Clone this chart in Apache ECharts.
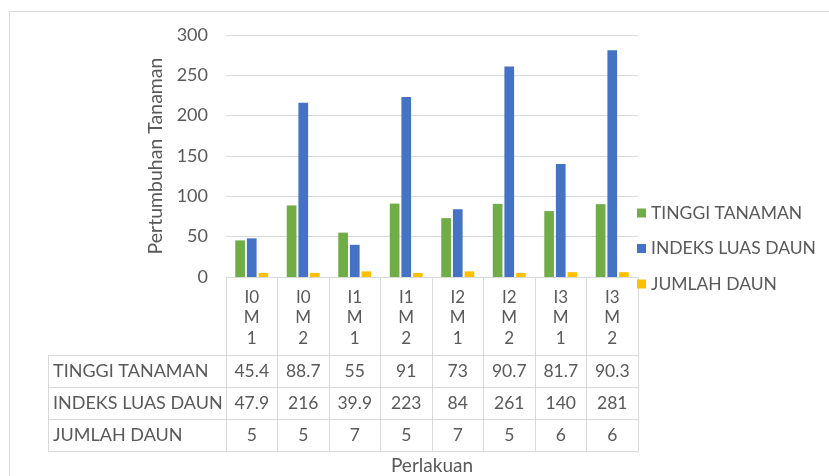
<!DOCTYPE html>
<html>
<head>
<meta charset="utf-8">
<script src="https://cdn.jsdelivr.net/npm/echarts@6/dist/echarts.min.js"></script>
<style>
  html, body { margin: 0; padding: 0; background: #fff; }
  #chart { width: 829px; height: 476px; }
</style>
</head>
<body>
<div id="chart"></div>
<script>
// Treatment combinations (I = level, M = method)
const categories = ['I0\nM\n1', 'I0\nM\n2', 'I1\nM\n1', 'I1\nM\n2', 'I2\nM\n1', 'I2\nM\n2', 'I3\nM\n1', 'I3\nM\n2'];
const seriesNames = ['TINGGI TANAMAN', 'INDEKS LUAS DAUN', 'JUMLAH DAUN'];
const tinggiTanaman = [45.4, 88.7, 55, 91, 73, 90.7, 81.7, 90.3];
const indeksLuasDaun = [47.9, 216, 39.9, 223, 84, 261, 140, 281];
const jumlahDaun = [5, 5, 7, 5, 7, 5, 6, 6];
const yTicks = [0, 50, 100, 150, 200, 250, 300];

const seriesValues = [tinggiTanaman, indeksLuasDaun, jumlahDaun];
const colors = ['#70AD47', '#4472C4', '#FFC000'];
const FONT = 'Lato';
const TEXT = '#595959';
const LINE = '#D9D9D9';

// Table cells: [column, row, value]
const tableCells = [];
seriesValues.forEach((vals, r) => vals.forEach((v, c) => tableCells.push([c, r, v])));

const chart = echarts.init(document.getElementById('chart'), null, { renderer: 'canvas' });

chart.setOption({
  animation: false,
  backgroundColor: '#fff',
  textStyle: { fontFamily: FONT },
  color: colors,
  graphic: [{
    type: 'rect',
    shape: { x: 9.5, y: 11.5, width: 900, height: 600 },
    style: { fill: 'none', stroke: '#D9D9D9', lineWidth: 1 },
    silent: true
  }],
  legend: {
    orient: 'vertical',
    left: 632,
    top: 199,
    itemWidth: 9,
    itemHeight: 9,
    itemGap: 17.5,
    icon: 'rect',
    textStyle: { color: TEXT, fontSize: 17.5, fontFamily: FONT },
    data: seriesNames
  },
  grid: [
    { left: 226, width: 412, top: 35, height: 242, outerBoundsMode: 'none' },
    { left: 226, width: 412, top: 355, height: 96, outerBoundsMode: 'none' }
  ],
  xAxis: [{
    gridIndex: 0,
    type: 'category',
    data: categories,
    axisLine: { show: true, lineStyle: { color: LINE } },
    axisTick: { show: true, length: 78, lineStyle: { color: LINE } },
    axisLabel: { color: TEXT, fontSize: 17, lineHeight: 20.5, margin: 10, interval: 0 },
    splitLine: { show: false }
  }, {
    gridIndex: 1,
    type: 'category',
    data: categories,
    position: 'bottom',
    axisLine: { show: true, lineStyle: { color: LINE } },
    axisTick: { show: false },
    axisLabel: { show: false },
    splitLine: { show: true, lineStyle: { color: LINE } },
    name: 'Perlakuan',
    nameLocation: 'middle',
    nameGap: 5,
    nameTextStyle: { color: TEXT, fontSize: 19 }
  }],
  yAxis: [{
    gridIndex: 0,
    type: 'value',
    min: 0,
    max: 300,
    interval: 50,
    axisLine: { show: false },
    axisTick: { show: false },
    axisLabel: { color: TEXT, fontSize: 18, margin: 18 },
    splitLine: { show: true, lineStyle: { color: LINE } },
    name: 'Pertumbuhan Tanaman',
    nameLocation: 'middle',
    nameGap: 60,
    nameTextStyle: { color: TEXT, fontSize: 19.5 }
  }, {
    gridIndex: 1,
    type: 'category',
    data: seriesNames,
    inverse: true,
    axisLine: { show: true, lineStyle: { color: LINE } },
    axisTick: { show: true, length: 178, lineStyle: { color: LINE } },
    axisLabel: { color: TEXT, fontSize: 18, align: 'left', margin: 173 },
    splitLine: { show: true, lineStyle: { color: LINE } }
  }, {
    // left border of the row-header column
    gridIndex: 1,
    type: 'category',
    data: seriesNames,
    position: 'left',
    offset: 178,
    axisLine: { show: true, lineStyle: { color: LINE } },
    axisTick: { show: false },
    axisLabel: { show: false }
  }],
  series: [
    ...seriesNames.map((name, i) => ({
      name,
      type: 'bar',
      xAxisIndex: 0,
      yAxisIndex: 0,
      data: seriesValues[i],
      barGap: '20%',
      barCategoryGap: '36%',
      itemStyle: { color: colors[i] }
    })),
    {
      type: 'custom',
      xAxisIndex: 1,
      yAxisIndex: 1,
      data: tableCells,
      silent: true,
      renderItem: (params, api) => {
        const p = api.coord([api.value(0), api.value(1)]);
        return {
          type: 'text',
          x: p[0],
          y: p[1],
          style: {
            text: String(api.value(2)),
            align: 'center',
            verticalAlign: 'middle',
            fill: TEXT,
            font: '17.5px ' + FONT
          }
        };
      }
    }
  ]
});
</script>
</body>
</html>
